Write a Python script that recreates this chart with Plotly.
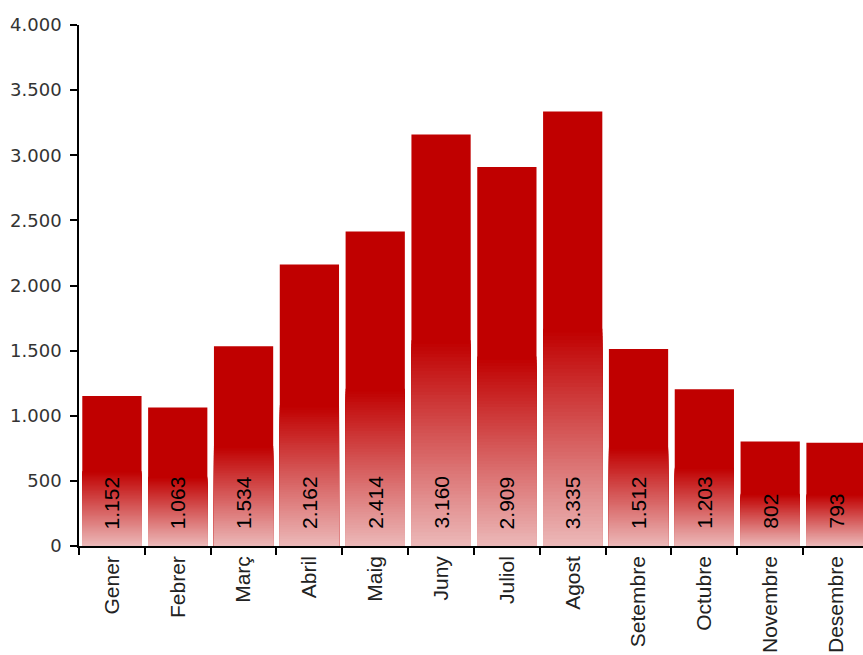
import plotly.graph_objects as go

months = ["Gener", "Febrer", "Març", "Abril", "Maig", "Juny", "Juliol",
          "Agost", "Setembre", "Octubre", "Novembre", "Desembre"]
values = [1152, 1063, 1534, 2162, 2414, 3160, 2909, 3335, 1512, 1203, 802, 793]
y_ticks = [0, 500, 1000, 1500, 2000, 2500, 3000, 3500, 4000]

DARK = (192, 0, 0)
LIGHT = (236, 186, 186)
N_SEG = 60          # number of gradient steps in the lower half of each bar
GRAD_FRAC = 0.5     # fraction of each bar covered by the gradient

fig = go.Figure()

def mix(t):
    r = round(LIGHT[0] + (DARK[0] - LIGHT[0]) * t)
    g = round(LIGHT[1] + (DARK[1] - LIGHT[1]) * t)
    b = round(LIGHT[2] + (DARK[2] - LIGHT[2]) * t)
    return f"rgb({r},{g},{b})"

# full dark bar first, then progressively shorter and lighter bars overlaid
fig.add_trace(go.Bar(
    x=months, y=values,
    marker=dict(color=f"rgb{DARK}", line=dict(width=0)),
    hoverinfo="skip", showlegend=False,
))
for k in range(N_SEG):
    frac = GRAD_FRAC * (1 - k / N_SEG)
    t = 1 - k / N_SEG
    fig.add_trace(go.Bar(
        x=months,
        y=[v * frac for v in values],
        marker=dict(color=mix(t), line=dict(width=0)),
        hoverinfo="skip", showlegend=False,
    ))

for m, v in zip(months, values):
    fig.add_annotation(
        x=m, y=0, xref="x", yref="y",
        text=f"{v:,}".replace(",", "."),
        textangle=-90, showarrow=False,
        yanchor="bottom", xanchor="center", yshift=15,
        font=dict(family="Liberation Sans, Arial, sans-serif", size=21, color="#000000"),
    )

fig.update_layout(
    width=863, height=655,
    margin=dict(l=79, r=0, t=25, b=109),
    barmode="overlay",
    bargap=0.1,
    plot_bgcolor="white",
    paper_bgcolor="white",
    separators=",.",
    showlegend=False,
)
fig.update_xaxes(
    type="category",
    categoryorder="array", categoryarray=months,
    range=[-0.5, 11.41],
    automargin=False,
    tickson="boundaries",
    ticks="outside", ticklen=7, tickcolor="black", tickwidth=1.5,
    showline=True, linecolor="black", linewidth=1.5,
    tickangle=-90,
    tickfont=dict(family="Liberation Sans, Arial, sans-serif", size=21, color="#222222"),
    showgrid=False, zeroline=False,
)
fig.update_yaxes(
    range=[0, 4000],
    tickvals=y_ticks,
    tickformat=",d",
    automargin=False,
    ticks="outside", ticklen=7, tickcolor="black", tickwidth=1.5,
    ticklabelstandoff=5,
    showline=True, linecolor="black", linewidth=1.5,
    tickfont=dict(family="DejaVu Sans, Verdana, sans-serif", size=18, color="#333333"),
    showgrid=False, zeroline=False,
)

fig.write_html("out.html")
